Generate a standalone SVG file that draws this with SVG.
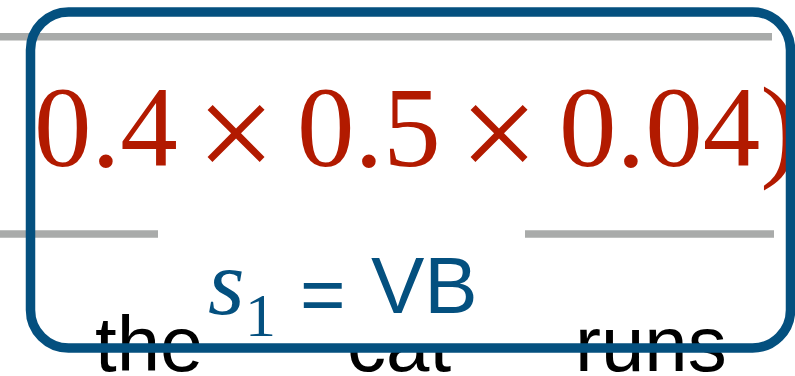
<svg xmlns="http://www.w3.org/2000/svg" width="795" height="376" viewBox="0 0 795 376">
<style>
.rule{stroke:#a9abaa;stroke-width:7.5;fill:none}
.word{font-family:"Liberation Sans",Arial,sans-serif;font-size:78px;fill:#000}
.num{font-family:"Liberation Serif","Times New Roman",serif;font-size:115px;fill:#b21a00}
.op{font-family:"Liberation Serif","Times New Roman",serif;font-size:140px;fill:#b21a00;text-anchor:middle}
.lab{fill:#04507f}
</style>
<rect width="795" height="376" fill="#fff"/>
<g id="rules">
<line class="rule" x1="0" y1="36.7" x2="772" y2="36.7"/>
<line class="rule" x1="0" y1="234" x2="158" y2="234"/>
<line class="rule" x1="525" y1="234" x2="774" y2="234"/>
</g>
<g id="words">
<text class="word" x="95" y="371">the</text>
<text class="word" x="347" y="371">cat</text>
<text class="word" x="575" y="371">runs</text>
</g>
<rect x="335" y="280" width="125" height="68" fill="#fff"/>
<g id="formula">
<text class="num" x="34" y="166">0.4</text>
<text class="op" x="236" y="180">×</text>
<text class="num" x="297" y="166">0.5</text>
<text class="op" x="499" y="180">×</text>
<text class="num" x="559" y="166">0.04)</text>
</g>
<g id="box">
<rect x="30.5" y="12" width="760" height="336" rx="38" ry="38" fill="none" stroke="#04507f" stroke-width="9.5"/>
</g>
<g id="label">
<text class="lab" x="208" y="314" font-family="Liberation Serif,'Times New Roman',serif" font-style="italic" font-size="94">s</text>
<text class="lab" x="245" y="336" font-family="Liberation Serif,'Times New Roman',serif" font-size="62">1</text>
<text class="lab" x="300" y="321" font-family="Liberation Sans,Arial,sans-serif" font-size="78">=</text>
<text class="lab" x="371" y="313" font-family="Liberation Sans,Arial,sans-serif" font-size="80">VB</text>
</g>
</svg>
